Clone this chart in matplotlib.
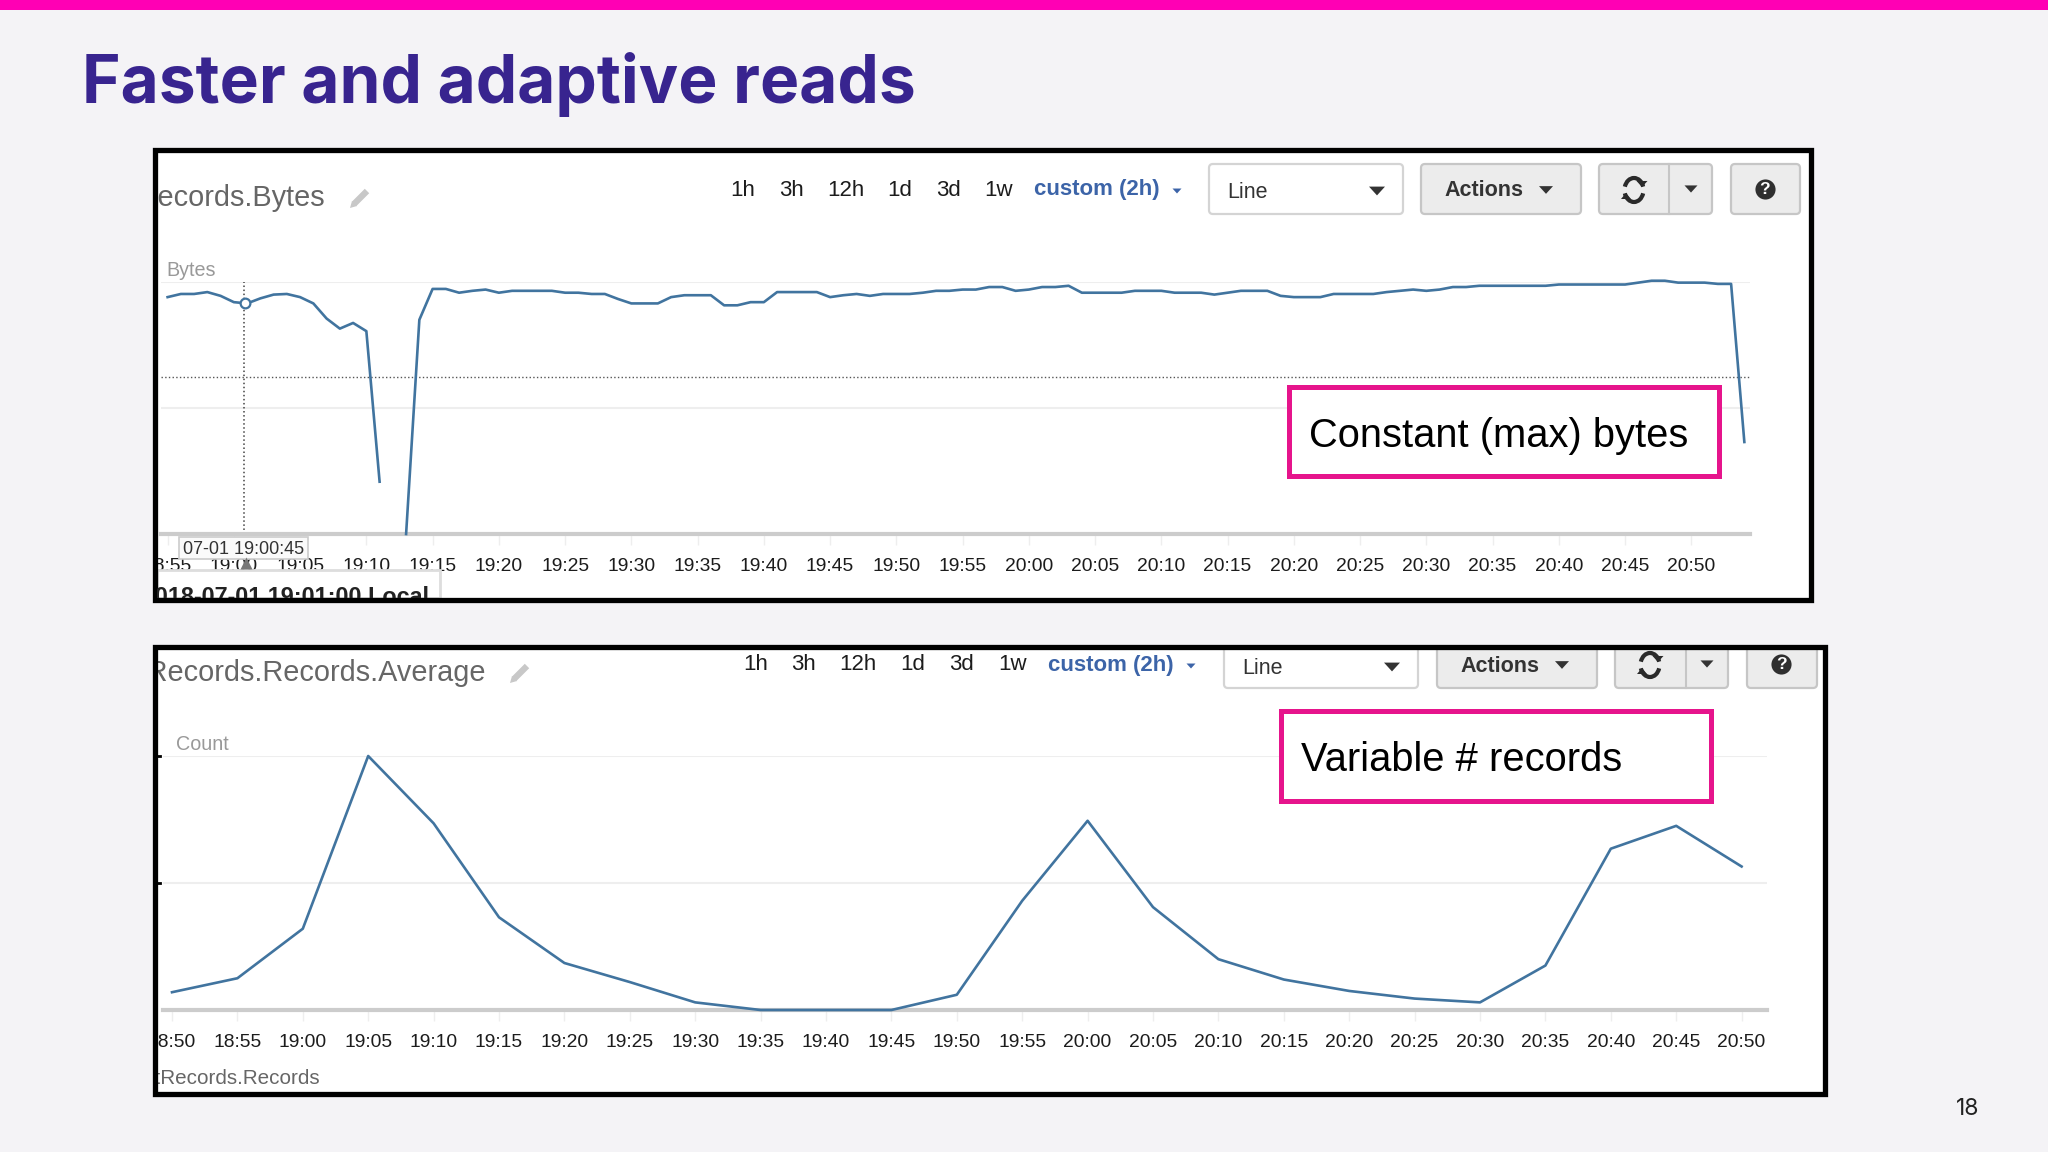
import numpy as np
import matplotlib
matplotlib.use('Agg')
import matplotlib.pyplot as plt
from matplotlib.patches import Rectangle, FancyBboxPatch, Arc, Polygon

W, H = 2048, 1152

# Values (grid lines sit at 1 and 2, baseline at 0)
bytes_start = 18 * 60 + 55
bytes_values = [
    1.88, 1.905, 1.905, 1.92, 1.89, 1.84, 1.83, 1.87, 1.90, 1.905,
    1.88, 1.83, 1.71, 1.63, 1.675, 1.61, 0.415, np.nan, 0.0, 1.70,
    1.945, 1.945, 1.915, 1.93, 1.94, 1.915, 1.93, 1.93, 1.93, 1.93,
    1.915, 1.915, 1.905, 1.905, 1.865, 1.83, 1.83, 1.83, 1.88, 1.895,
    1.895, 1.895, 1.815, 1.815, 1.84, 1.84, 1.92, 1.92, 1.92, 1.92,
    1.88, 1.895, 1.905, 1.89, 1.905, 1.905, 1.905, 1.915, 1.93, 1.93,
    1.94, 1.94, 1.96, 1.96, 1.93, 1.94, 1.96, 1.96, 1.97, 1.915,
    1.915, 1.915, 1.915, 1.93, 1.93, 1.93, 1.915, 1.915, 1.915, 1.90,
    1.915, 1.93, 1.93, 1.93, 1.89, 1.88, 1.88, 1.88, 1.905, 1.905,
    1.905, 1.905, 1.92, 1.93, 1.94, 1.93, 1.94, 1.96, 1.96, 1.97,
    1.97, 1.97, 1.97, 1.97, 1.97, 1.98, 1.98, 1.98, 1.98, 1.98,
    1.98, 1.995, 2.01, 2.01, 1.995, 1.995, 1.995, 1.985, 1.985, 0.73,
]
bytes_ticks = ['18:55', '19:00', '19:05', '19:10', '19:15', '19:20', '19:25', '19:30',
               '19:35', '19:40', '19:45', '19:50', '19:55', '20:00', '20:05', '20:10',
               '20:15', '20:20', '20:25', '20:30', '20:35', '20:40', '20:45', '20:50']
cross_time = 18 * 60 + 60.75
cross_value = 1.83
cross_level = 1.247

count_start = 18 * 60 + 50
count_values = [0.14, 0.25, 0.64, 2.00, 1.47, 0.73, 0.37, 0.22, 0.06, 0.0, 0.0, 0.0,
                0.12, 0.86, 1.49, 0.81, 0.40, 0.24, 0.15, 0.09, 0.06, 0.35, 1.27, 1.45, 1.13]
count_ticks = ['18:50', '18:55', '19:00', '19:05', '19:10', '19:15', '19:20', '19:25',
               '19:30', '19:35', '19:40', '19:45', '19:50', '19:55', '20:00', '20:05',
               '20:10', '20:15', '20:20', '20:25', '20:30', '20:35', '20:40', '20:45', '20:50']
range_buttons = ['1h', '3h', '12h', '1d', '3d', '1w']

SANS = 'Liberation Sans'
LINE = '#41749f'
PINK = '#e6148c'
BLUE = '#3c64a8'
SLIDE = '#f4f3f6'

plt.rcParams['font.family'] = SANS
fig = plt.figure(figsize=(W / 100, H / 100), dpi=100, facecolor=SLIDE)


def px_axes(left, top, right, bottom, z):
    return fig.add_axes([left / W, 1 - bottom / H, (right - left) / W, (bottom - top) / H], zorder=z)


# Layers: back (panels and buttons), charts, front (tooltip and frames)
back = px_axes(0, 0, W, H, 0)
front = px_axes(0, 0, W, H, 5)
for a in (back, front):
    a.set_xlim(0, W)
    a.set_ylim(H, 0)
    a.axis('off')
    a.patch.set_alpha(0)

back.add_patch(Rectangle((0, 0), W, 10, fc='#ff00b4', ec='none'))
back.text(82, 103, 'Faster and adaptive reads', family='Inter', weight='bold', fontsize=47.4,
          color='#38248f', va='baseline')
back.text(1968, 1109, '18', fontsize=16.5, color='#222222', ha='center', va='center',
          family='Inter')


def clipped_text(ax, x, y, s, clip, **kw):
    # ax.text resets a rectangle clip, so it has to be set afterwards
    t = ax.text(x, y, s, **kw)
    t.set_clip_path(clip)
    t.set_clip_on(True)
    return t


def button(x0, x1, y0, y1, fc='#ececec', ec='#c6c6c6'):
    back.add_patch(FancyBboxPatch((x0 + 4, y0 + 4), x1 - x0 - 8, y1 - y0 - 8,
                                  boxstyle='round,pad=4', fc=fc, ec=ec, lw=1.6))


def caret(x, y, w=14, color='#333333'):
    h = w * 0.55
    back.add_patch(Polygon([(x - w / 2, y - h / 2), (x + w / 2, y - h / 2), (x, y + h / 2)],
                           closed=True, fc=color, ec='none'))


def refresh_icon(x, y):
    for start, end in ((200, 340), (20, 160)):
        back.add_patch(Arc((x, y), 19, 24, theta1=start, theta2=end, color='#2a2a2a', lw=3))
    caret(x + 8, y - 6, 11, '#2a2a2a')
    back.add_patch(Polygon([(x - 13, y + 9), (x - 3, y + 9), (x - 8, y + 3)], closed=True, fc='#2a2a2a', ec='none'))


def help_icon(x, y):
    back.plot([x], [y], marker='o', ms=14.5, color='#2f2f2f', mec='none')
    back.text(x, y + 0.5, '?', color='white', fontsize=12.5, weight='bold', ha='center', va='center')


def pencil_icon(x, y):
    back.plot([x - 6, x + 7], [y + 6, y - 7], color='#c8c8c8', lw=4.5, solid_capstyle='butt')
    back.add_patch(Polygon([(x - 10, y + 10), (x - 8, y + 3), (x - 3, y + 8)], closed=True, fc='#c8c8c8', ec='none'))


def panel(frame, title, title_right, title_y, pencil_x, toolbar, range_x, y_text):
    x0, y0, x1, y1 = frame
    clip = Rectangle((x0, y0), x1 - x0, y1 - y0, transform=back.transData)
    back.add_patch(Rectangle((x0, y0), x1 - x0, y1 - y0, fc='white', ec='none'))
    clipped_text(back, title_right, title_y, title, clip, fontsize=20.8, color='#666666', ha='right', va='center')
    pencil_icon(pencil_x, title_y)
    for lab, x in zip(range_buttons, range_x):
        back.text(x, y_text, lab, fontsize=16, color='#1c1c1c', ha='center', va='center')
    t = toolbar
    back.text(t['custom'], y_text, 'custom (2h)', fontsize=16, weight='bold', color=BLUE, va='center')
    caret(t['custom_caret'], y_text + 1, 9, BLUE)
    # select box and buttons
    button(t['line'][0], t['line'][1], t['top'], t['bottom'], fc='white', ec='#d4d4d4')
    back.text(t['line'][0] + 18, t['text_y'], 'Line', fontsize=15.5, color='#333333', va='center')
    caret(t['line'][1] - 26, t['text_y'] - 2, 16)
    button(t['actions'][0], t['actions'][1], t['top'], t['bottom'])
    back.text(t['actions'][0] + 23, y_text + 1, 'Actions', fontsize=15.5, weight='bold', color='#333333', va='center')
    caret(t['actions'][1] - 35, y_text, 14)
    button(t['refresh'][0], t['refresh'][1], t['top'], t['bottom'])
    back.plot([t['divider'], t['divider']], [t['top'], t['bottom']], color='#c6c6c6', lw=1.5)
    refresh_icon(t['refresh'][0] + 35, y_text)
    caret(t['refresh'][1] - 21, y_text - 1, 13)
    button(t['help'][0], t['help'][1], t['top'], t['bottom'])
    help_icon(sum(t['help']) / 2 - 1, y_text - 1)
    return clip


def chart(left, right, top, bottom, start, first_px, px_per_min, ticks, step=5):
    ax = px_axes(left, top, right, bottom, 2)
    ax.patch.set_alpha(0)
    ax.set_xlim(start + (left - first_px) / px_per_min, start + (right - first_px) / px_per_min)
    ax.set_ylim(0, 2)
    ax.set_yticks([1, 2])
    ax.tick_params(axis='y', length=0, labelleft=False)
    ax.grid(axis='y', color='#eeeeee', lw=1.5, zorder=0)
    ax.set_xticks([start + i * step for i in range(len(ticks))])
    ax.set_xticklabels(ticks, fontsize=13.9, color='#1c1c1c')
    ax.tick_params(axis='x', length=8, width=1, color='#eeeeee', pad=9)
    for s in ('top', 'left', 'right'):
        ax.spines[s].set_visible(False)
    ax.spines['bottom'].set_color('#cccccc')
    ax.spines['bottom'].set_linewidth(3)
    return ax


# Top panel
frame1 = (155, 150, 1811, 600)
clip1 = panel(frame1, 'GetRecords.Bytes', 325, 198, 360,
              dict(custom=1034, custom_caret=1177, line=(1209, 1403), actions=(1421, 1581),
                   refresh=(1599, 1712), divider=1669, help=(1731, 1800), top=164, bottom=214, text_y=193),
              [743, 791, 846, 900, 948, 999], 190)
ax1 = chart(161, 1750, 282, 534, bytes_start, 167.6, 13.25, bytes_ticks)
minutes1 = bytes_start + np.arange(len(bytes_values))
ax1.plot(minutes1, bytes_values, color=LINE, lw=1.9, clip_on=False, zorder=3)
ax1.axhline(cross_level, color='#555555', lw=1, ls=':', zorder=2)
ax1.plot([cross_time, cross_time], [0, 2], color='#444444', lw=1.1, ls=':', zorder=2)
ax1.plot([cross_time + 0.1], [cross_value], marker='o', ms=7, mfc='white', mec=LINE, mew=1.6, zorder=4)
back.text(166, 270, 'Bytes', fontsize=14.2, color='#999999', va='center')
for lab in ax1.get_xticklabels():
    lab.set_clip_path(Rectangle((155, 150), 1656, 450, transform=back.transData))

# Tooltip over the first labels
front.add_patch(Rectangle((179, 537), 129, 22, fc='#fafafa', ec='#cccccc', lw=1.2))
front.text(243.5, 550, '07-01 19:00:45', fontsize=13, color='#333333', ha='center', va='center')
front.plot([246], [563], marker='^', ms=8, color='#777777', mec='none')
front.add_patch(Rectangle((157, 570), 283, 28, fc='white', ec='#dddddd', lw=2))
clipped_text(front, 429, 597, '2018-07-01 19:01:00 Local',
             Rectangle((157, 572), 283, 26, transform=front.transData),
             fontsize=16.8, weight='bold', color='#222222', ha='right', va='center')

front.add_patch(Rectangle((1289, 387), 430, 89, fc='white', ec=PINK, lw=3.6))
front.text(1309, 436, 'Constant (max) bytes', fontsize=28.7, color='black', va='center')
front.add_patch(Rectangle(frame1[:2], frame1[2] - frame1[0], frame1[3] - frame1[1], fc='none', ec='black', lw=3.8))

# Bottom panel
frame2 = (155, 647, 1825, 1094)
clip2 = panel(frame2, 'GetRecords.Records.Average', 486, 673, 520,
              dict(custom=1048, custom_caret=1191, line=(1224, 1418), actions=(1437, 1597),
                   refresh=(1615, 1728), divider=1686, help=(1747, 1817), top=625, bottom=688, text_y=669),
              [756, 803, 858, 913, 961, 1013], 665)
ax2 = chart(163, 1767, 756, 1010, count_start, 172, 13.08, count_ticks)
minutes2 = count_start + 5 * np.arange(len(count_values))
ax2.plot(minutes2, count_values, color=LINE, lw=1.9, clip_on=False, zorder=3)
back.text(176, 745, 'Count', fontsize=14.2, color='#999999', va='center')
clipped_text(back, 320, 1079, 'GetRecords.Records', clip2, fontsize=14.9, color='#666666', ha='right', va='center')
for lab in ax2.get_xticklabels():
    lab.set_clip_path(Rectangle((155, 647), 1670, 447, transform=back.transData))

front.add_patch(Rectangle((1281, 711), 430, 90, fc='white', ec=PINK, lw=3.6))
front.text(1301, 760, 'Variable # records', fontsize=28.7, color='black', va='center')
front.add_patch(Rectangle(frame2[:2], frame2[2] - frame2[0], frame2[3] - frame2[1], fc='none', ec='black', lw=3.8))
# stubs of the cropped y tick labels on the frame
front.plot([157, 160], [756, 756], color='black', lw=2)
front.plot([157, 160], [883, 883], color='black', lw=2)

# Cover anything from the toolbar that pokes above the cropped panel
front.add_patch(Rectangle((155, 603), 1700, 42, fc=SLIDE, ec='none', zorder=0))

fig.savefig('out.png', dpi=100, facecolor=fig.get_facecolor())
